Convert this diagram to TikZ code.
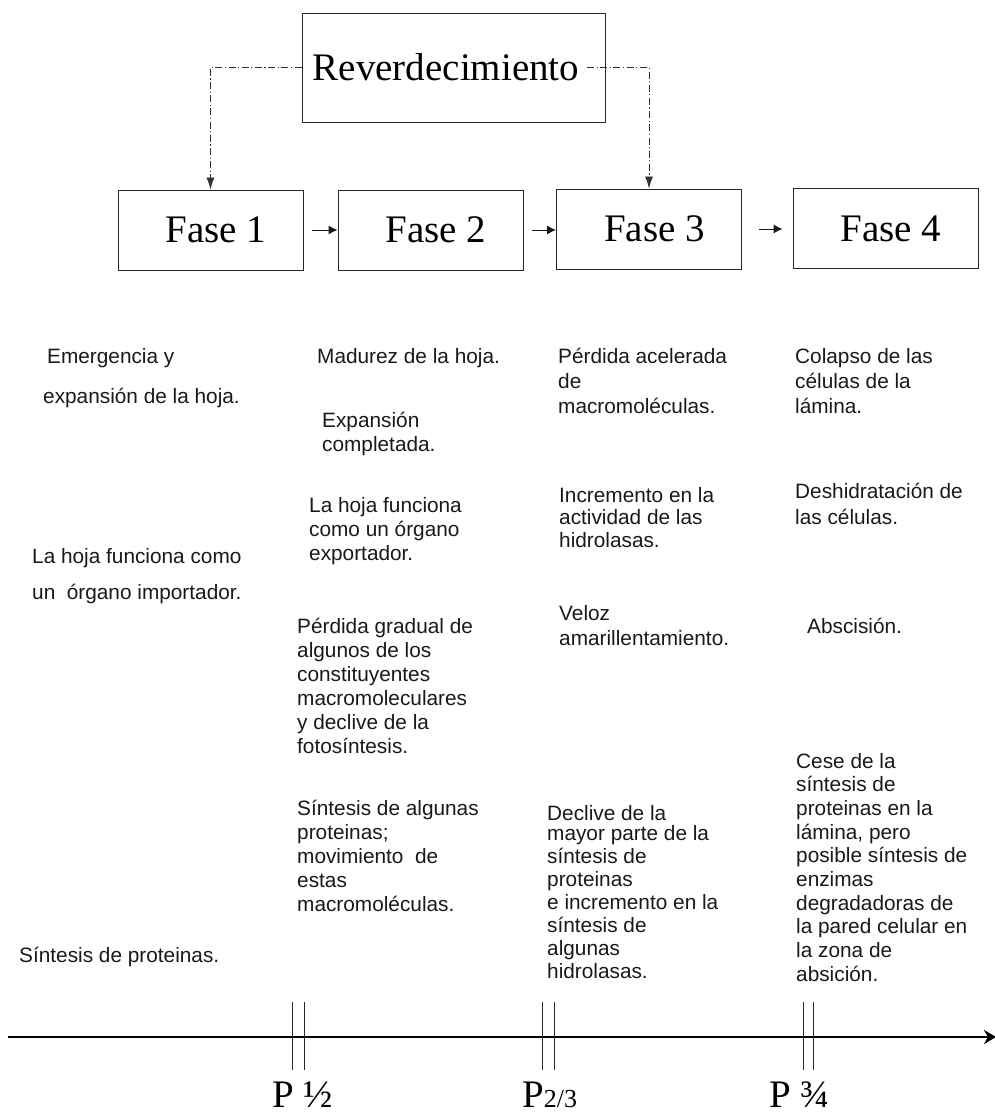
\documentclass[tikz,border=0pt]{standalone}
\usepackage{fontspec}
\setmainfont{Liberation Serif}
\newfontfamily\arialf{Liberation Sans}
\usetikzlibrary{arrows.meta}
\newcommand\stk[2]{\vtop{\baselineskip=#1pt\lineskiplimit=-20pt\lineskip=0pt #2}}
\newcommand\rw[1]{\hbox{#1}}
\begin{document}
\begin{tikzpicture}[x=1pt,y=1pt,
  box/.style={draw=black!85, line width=0.9pt, minimum width=185pt, minimum height=80pt, inner sep=0pt, font=\fontsize{39}{44}\selectfont},
  txt/.style={anchor=base west, inner sep=0pt, font=\arialf\fontsize{20.8}{24}\selectfont, text=black!90},
  dd/.style={draw=black!80, line width=0.8pt, dash pattern=on 7pt off 2.5pt on 1.2pt off 2.5pt, -{Latex[length=12pt,width=8pt]}},
  flow/.style={draw=black!90, line width=1pt, -{Latex[length=9pt,width=9pt]}},
  tickln/.style={line width=0.8pt, draw=black!85},
  plab/.style={anchor=base west, inner sep=0pt, font=\fontsize{39}{44}\selectfont}]
\useasboundingbox (0,0) rectangle (995,-1114);

% top box and phases
\node[box, minimum width=303pt, minimum height=109pt] (R) at (453.5,-67.5) {Reverdecimiento\hspace*{15pt}};
\node[box] (F1) at (210.5,-230) {\hspace*{11pt}Fase 1};
\node[box] (F2) at (430.5,-230) {\hspace*{11pt}Fase 2};
\node[box] (F3) at (649,-229) {\hspace*{11pt}Fase 3};
\node[box] (F4) at (885.5,-228.5) {\hspace*{11pt}Fase 4};

\draw[dd] (R.west) -| (F1.north);
\coordinate (rs) at (587,-67.5);
\draw[dd] (rs) -| (F3.north);

\draw[flow, shorten <=9pt] (F1.east) -- (F2.west);
\draw[flow, shorten <=9pt] (F2.east) -- (F2.east -| F3.west);
\draw[flow, shorten <=17pt, shorten >=10pt] (F3.east) -- (F3.east -| F4.west);

% column 1
\node[txt] (c1a) at (47,-363) {\stk{40}{\rw{Emergencia y}\rw{\kern-4pt expansión de la hoja.}}};
\node[txt] (c1b) at (32,-563) {\stk{36}{\rw{La hoja funciona como}\rw{un\ \ órgano importador.}}};
\node[txt] (c1c) at (19,-962) {Síntesis de proteinas.};

% column 2
\node[txt] (c2a) at (317,-363) {Madurez de la hoja.};
\node[txt] (c2b) at (322,-427) {\stk{24}{\rw{Expansión}\rw{completada.}}};
\node[txt] (c2c) at (309,-512) {\stk{24}{\rw{La hoja funciona}\rw{como un órgano}\rw{exportador.}}};
\node[txt] (c2d) at (297,-633) {\stk{24}{\rw{Pérdida gradual de}\rw{algunos de los}\rw{constituyentes}\rw{macromoleculares}\rw{y declive de la}\rw{fotosíntesis.}}};
\node[txt] (c2e) at (297,-815) {\stk{24}{\rw{Síntesis de algunas}\rw{proteinas;}\rw{movimiento\ \ de}\rw{estas}\rw{macromoléculas.}}};

% column 3
\node[txt] (c3a) at (558,-363) {\stk{25}{\rw{Pérdida acelerada}\rw{de}\rw{macromoléculas.}}};
\node[txt] (c3b) at (559,-502) {\stk{22.5}{\rw{Incremento en la}\rw{actividad de las}\rw{hidrolasas.}}};
\node[txt] (c3c) at (559,-620) {\stk{25}{\rw{Veloz}\rw{amarillentamiento.}}};
\node[txt] (c3d) at (547,-820) {\stk{23}{\rw{Declive de la}\vskip-3pt\rw{mayor parte de la}\rw{síntesis de}\rw{proteinas}\rw{e incremento en la}\rw{síntesis de}\rw{algunas}\rw{hidrolasas.}}};

% column 4
\node[txt] (c4a) at (795,-363) {\stk{25}{\rw{Colapso de las}\rw{células de la}\rw{lámina.}}};
\node[txt] (c4b) at (795,-498) {\stk{26}{\rw{Deshidratación de}\rw{las células.}}};
\node[txt] (c4c) at (807,-633) {Abscisión.};
\node[txt] (c4d) at (796,-768) {\stk{23.7}{\rw{Cese de la}\rw{síntesis de}\rw{proteinas en la}\rw{lámina, pero}\rw{posible síntesis de}\rw{enzimas}\rw{degradadoras de}\rw{la pared celular en}\rw{la zona de}\rw{absición.}}};

% time axis
\coordinate (a0) at (8,-1037);
\coordinate (a1) at (996,-1037);
\draw[line width=2.5pt, -{Stealth[length=12pt,width=14pt]}] (a0) -- (a1);
\foreach \x in {292,304,542,554,803,813}
  \draw[tickln] (\x,-1002) -- (\x,-1070);

\node[plab] (p12) at (272,-1107) {P ½};
\node[plab] (p23) at (522,-1107) {P{\fontsize{26}{26}\selectfont 2/3}};
\node[plab] (p34) at (769,-1107) {P ¾};
\end{tikzpicture}
\end{document}
